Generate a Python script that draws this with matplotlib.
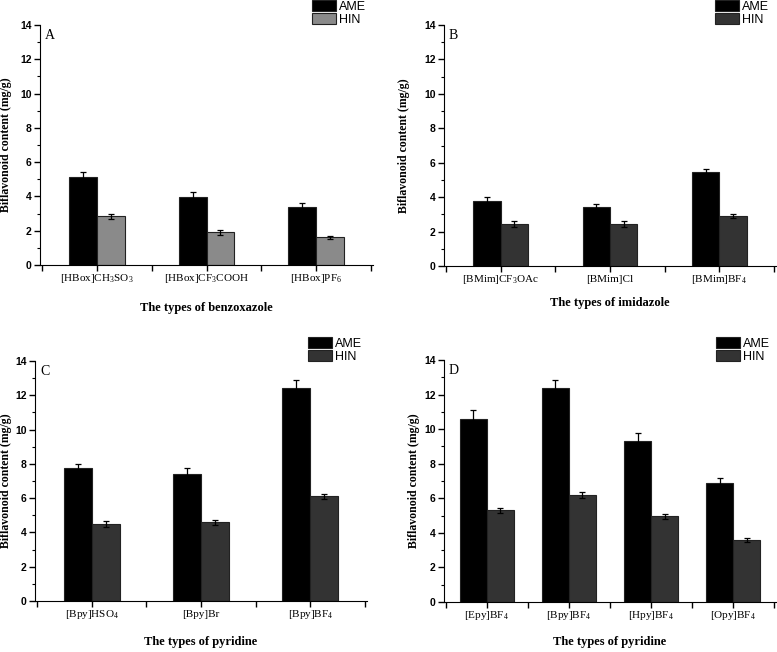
import numpy as np
import matplotlib
matplotlib.use("Agg")
import matplotlib.pyplot as plt

plt.rcParams['mathtext.fontset'] = 'custom'
plt.rcParams['mathtext.rm'] = 'Liberation Serif'

series = ['AME', 'HIN']

# panel A - benzoxazole
cats_a = [r'[HBox]CH$_3$SO$_3$', r'[HBox]CF$_3$COOH', r'[HBox]PF$_6$']
ame_a = [5.15, 3.99, 3.41]
ame_a_err = [0.26, 0.25, 0.2]
hin_a = [2.85, 1.92, 1.61]
hin_a_err = [0.15, 0.15, 0.1]

# panel B - imidazole
cats_b = [r'[BMim]CF$_3$OAc', '[BMim]Cl', r'[BMim]BF$_4$']
ame_b = [3.8, 3.43, 5.47]
ame_b_err = [0.21, 0.15, 0.15]
hin_b = [2.42, 2.45, 2.89]
hin_b_err = [0.17, 0.17, 0.13]

# panel C - pyridine anions
cats_c = [r'[Bpy]HSO$_4$', '[Bpy]Br', r'[Bpy]BF$_4$']
ame_c = [7.73, 7.42, 12.41]
ame_c_err = [0.29, 0.31, 0.47]
hin_c = [4.49, 4.6, 6.12]
hin_c_err = [0.15, 0.15, 0.15]

# panel D - pyridine chain length
cats_d = [r'[Epy]BF$_4$', r'[Bpy]BF$_4$', r'[Hpy]BF$_4$', r'[Opy]BF$_4$']
ame_d = [10.6, 12.39, 9.34, 6.89]
ame_d_err = [0.48, 0.48, 0.41, 0.31]
hin_d = [5.3, 6.2, 4.95, 3.6]
hin_d_err = [0.15, 0.17, 0.15, 0.13]

W, H = 777, 652
fig = plt.figure(figsize=(W / 100, H / 100), dpi=100)


def px_axes(left, right, top, bottom):
    return fig.add_axes([left / W, 1 - bottom / H, (right - left) / W, (bottom - top) / H])


def panel(ax, box, cats, ame, ame_err, hin, hin_err, hin_color, letter, xtitle, width,
          leg_px, ylab_x, xtitle_y):
    left, right, top, bottom = box
    aw, ah = right - left, bottom - top
    x = np.arange(len(cats))
    ekw = dict(elinewidth=0.9, capsize=2.5, capthick=0.9, ecolor='black')
    ax.bar(x - width / 2, ame, width, yerr=ame_err, color='black', edgecolor='#222222',
           linewidth=0.8, error_kw=ekw, label=series[0])
    ax.bar(x + width / 2, hin, width, yerr=hin_err, color=hin_color, edgecolor='#222222',
           linewidth=0.8, error_kw=ekw, label=series[1])
    ax.set_xlim(-0.52, len(cats) - 0.48)
    ax.set_ylim(0, 14)
    ax.set_yticks(np.arange(0, 15, 2))
    ax.set_yticks(np.arange(1, 14, 2), minor=True)
    ax.set_xticks(x)
    ax.set_xticks(np.arange(len(cats) + 1) - 0.5, minor=True)
    ax.set_xticklabels(cats, fontsize=8, family='Liberation Serif', va='baseline')
    for lab in ax.get_yticklabels():
        lab.set_fontweight('bold')
        lab.set_fontsize(7.5)
        lab.set_family('Liberation Sans')
    ax.spines['top'].set_visible(False)
    ax.spines['right'].set_visible(False)
    ax.tick_params(axis='both', which='both', direction='out', length=4, width=1)
    ax.tick_params(axis='y', which='minor', length=2, width=0.8)
    ax.tick_params(axis='y', pad=2)
    ax.tick_params(axis='x', pad=7.5)
    ax.set_ylabel('Biflavonoid content (mg/g)', fontsize=8.5, fontweight='bold',
                  family='Liberation Serif')
    ax.yaxis.set_label_coords((ylab_x + 5 - left) / aw, 0.5)
    ax.set_xlabel(xtitle, fontsize=9, fontweight='bold', family='Liberation Serif')
    ax.xaxis.set_label_coords(0.5, (bottom - xtitle_y + 6) / ah)
    ax.text(0.015, 0.985, letter, transform=ax.transAxes, ha='left', va='top',
            fontsize=10, family='Liberation Serif')
    ax.legend(loc='upper left', bbox_to_anchor=((leg_px[0] - left) / aw, (bottom - leg_px[1]) / ah),
              frameon=False, prop={'family': 'Liberation Sans', 'size': 9}, handlelength=1.9,
              handleheight=0.95, labelspacing=0.02, handletextpad=0.25,
              borderpad=0, borderaxespad=0)


box_a = (40, 373, 25, 265)
ax_a = px_axes(*box_a)
panel(ax_a, box_a, cats_a, ame_a, ame_a_err, hin_a, hin_a_err, '#8a8a8a', 'A',
      'The types of benzoxazole', 0.255, (312, 0), 7, 308)

box_b = (444, 776, 25, 266)
ax_b = px_axes(*box_b)
panel(ax_b, box_b, cats_b, ame_b, ame_b_err, hin_b, hin_b_err, '#333333', 'B',
      'The types of imidazole', 0.25, (715, 0), 405, 303)

box_c = (35, 367, 361, 601)
ax_c = px_axes(*box_c)
panel(ax_c, box_c, cats_c, ame_c, ame_c_err, hin_c, hin_c_err, '#333333', 'C',
      'The types of pyridine', 0.255, (308, 337), 7, 642)

box_d = (444, 776, 360, 602)
ax_d = px_axes(*box_d)
panel(ax_d, box_d, cats_d, ame_d, ame_d_err, hin_d, hin_d_err, '#333333', 'D',
      'The types of pyridine', 0.33, (716, 337), 415, 642)

fig.savefig('out.png', dpi=100)
